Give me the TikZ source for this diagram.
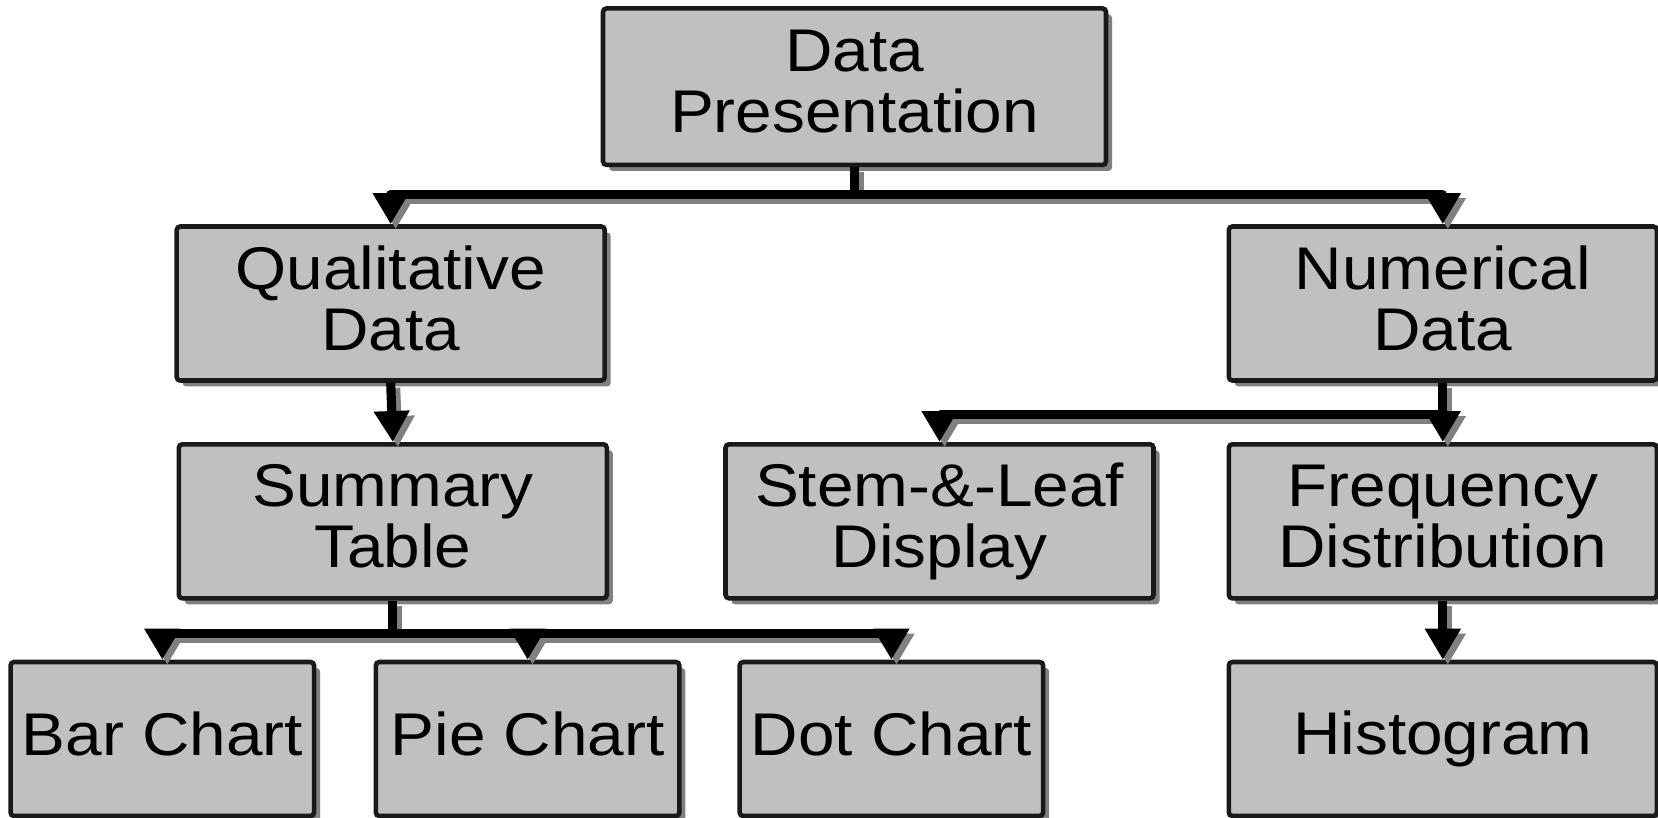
\documentclass[tikz,border=0pt]{standalone}
\usepackage{fontspec}
\setmainfont[FakeStretch=1.09]{Liberation Sans}
\usepackage{tikz}
\usetikzlibrary{arrows.meta,shadows}
\usepackage{xcolor}
\definecolor{boxgray}{RGB}{192,192,192}
\definecolor{shadowgray}{RGB}{128,128,128}
\tikzstyle{box} = [draw=black!90, line width=1.3pt, fill=boxgray, rounded corners=1pt, align=center, inner sep=0pt,
  font=\fontsize{17.15pt}{17.36pt}\selectfont, minimum width=4.28cm, minimum height=1.54cm,
  execute at end node={\rule[-2.9pt]{0pt}{0pt}},
  drop shadow={shadow xshift=0.06cm, shadow yshift=-0.06cm, fill=shadowgray, opacity=1}]
\tikzstyle{smallbox} = [box, minimum width=3.035cm]
\tikzstyle{link} = [line width=2.6pt, line join=round, -{Triangle[width=0.34cm,length=0.31cm]}, color=black]
\tikzstyle{linkshadow} = [link, color=shadowgray, transform canvas={shift={(0.05,-0.05)}}]

\begin{document}
\begin{tikzpicture}
\useasboundingbox (0,0) rectangle (16.58,-8.18);
% Boxes
\node[box, minimum width=5.03cm, minimum height=1.565cm] (pres) at (8.545,-0.867) {Data\\Presentation};
\node[box] (qual) at (3.907,-3.035) {Qualitative\\Data};
\node[box] (num) at (14.428,-3.035) {Numerical\\Data};
\node[box] (summ) at (3.928,-5.213) {Summary\\Table};
\node[box] (stem) at (9.395,-5.213) {Stem-\&-Leaf\\Display};
\node[box] (freq) at (14.428,-5.213) {Frequency\\Distribution};
\node[smallbox] (bar) at (1.623,-7.39) {Bar Chart};
\node[smallbox] (pie) at (5.276,-7.39) {Pie Chart};
\node[smallbox] (dot) at (8.914,-7.39) {Dot Chart};
\node[box] (hist) at (14.428,-7.39) {Histogram};

% Arrows (shadow first)
\foreach \sty in {linkshadow, link} {
  \draw[\sty] (pres.south) -- ++(0,-0.275) -| (qual.north);
  \draw[\sty] (pres.south) -- ++(0,-0.275) -| (num.north);
  \draw[\sty] (qual.south) -- (summ.north);
  \draw[\sty] (num.south) -- ++(0,-0.315) -| (stem.north);
  \draw[\sty] (num.south) -- (freq.north);
  \draw[\sty] (summ.south) -- ++(0,-0.327) -| (bar.north);
  \draw[\sty] (summ.south) -- ++(0,-0.327) -| (pie.north);
  \draw[\sty] (summ.south) -- ++(0,-0.327) -| (dot.north);
  \draw[\sty] (freq.south) -- (hist.north);
}
\end{tikzpicture}
\end{document}
